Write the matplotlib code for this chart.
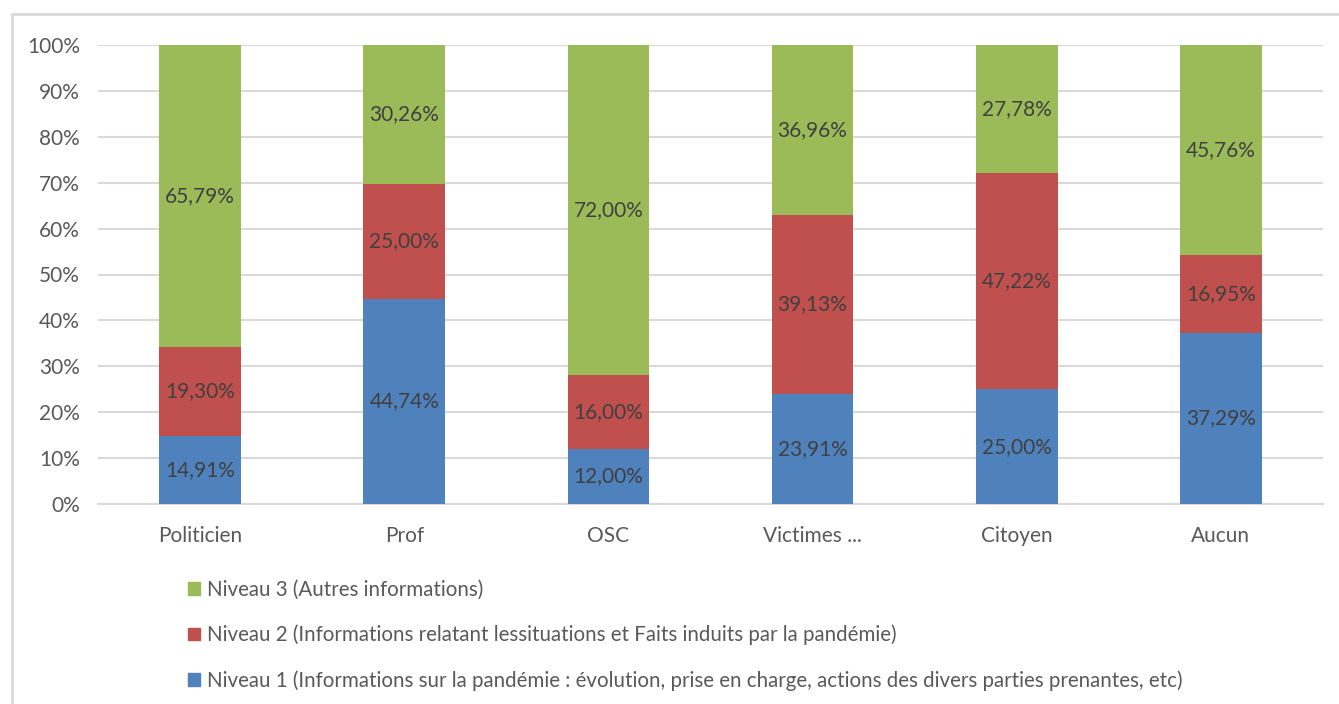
import matplotlib
matplotlib.use("Agg")
import matplotlib.pyplot as plt
from matplotlib.patches import Patch, Rectangle

plt.rcParams['font.family'] = ['Lato', 'DejaVu Sans']

categories = ["Politicien", "Prof", "OSC", "Victimes ...", "Citoyen", "Aucun"]
niveau1 = [14.91, 44.74, 12.00, 23.91, 25.00, 37.29]
niveau2 = [19.30, 25.00, 16.00, 39.13, 47.22, 16.95]
niveau3 = [65.79, 30.26, 72.00, 36.96, 27.78, 45.76]
series_labels = [
    "Niveau 1 (Informations sur la pandémie : évolution, prise en charge, actions des divers parties prenantes, etc)",
    "Niveau 2 (Informations relatant lessituations et Faits induits par la pandémie)",
    "Niveau 3 (Autres informations)",
]
colors = ["#4F81BD", "#C0504D", "#9BBB59"]

W, H = 1339, 704
fig = plt.figure(figsize=(W / 100, H / 100), dpi=100)
ax = fig.add_axes([98 / W, 1 - 504 / H, (1323 - 98) / W, (504 - 45) / H])

# chart frame
fig.patches.append(Rectangle((12 / W, -0.05), 1.1, 1 - 14 / H + 0.05,
                             transform=fig.transFigure, fill=False,
                             edgecolor="#D9D9D9", linewidth=2))

x = list(range(len(categories)))
bottom = [0] * len(categories)
for vals, col in zip([niveau1, niveau2, niveau3], colors):
    b = ax.bar(x, vals, 0.4, bottom=bottom, color=col, zorder=3)
    for rect, v, b0 in zip(b, vals, bottom):
        ax.text(rect.get_x() + rect.get_width() / 2, b0 + v / 2,
                f"{v:.2f}%".replace(".", ","), ha="center", va="center",
                fontsize=15, color="#404040", zorder=4)
    bottom = [b0 + v for b0, v in zip(bottom, vals)]

ax.set_xlim(-0.5, len(categories) - 0.5)
ax.set_ylim(0, 100)
ax.set_yticks(range(0, 101, 10))
ax.set_yticklabels([f"{t}%" for t in range(0, 101, 10)])
ax.set_xticks(x)
ax.set_xticklabels(categories)
ax.tick_params(axis="both", length=0, labelsize=15, labelcolor="#595959")
ax.tick_params(axis="x", pad=16)
ax.tick_params(axis="y", pad=13)
ax.yaxis.grid(True, color="#D9D9D9", linewidth=1.5, zorder=0)
for s in ["top", "right", "left"]:
    ax.spines[s].set_visible(False)
ax.spines["bottom"].set_color("#D9D9D9")
ax.spines["bottom"].set_linewidth(1.5)

handles = [Patch(color=c) for c in colors][::-1]
fig.legend(handles, series_labels[::-1], loc="upper left",
           bbox_to_anchor=(188 / W, 1 - 580 / H), frameon=False,
           fontsize=14.8, labelcolor="#595959", handlelength=0.56,
           handleheight=0.56, handletextpad=0.35, labelspacing=1.2,
           borderpad=0, borderaxespad=0)

fig.savefig("out.png", dpi=100)
